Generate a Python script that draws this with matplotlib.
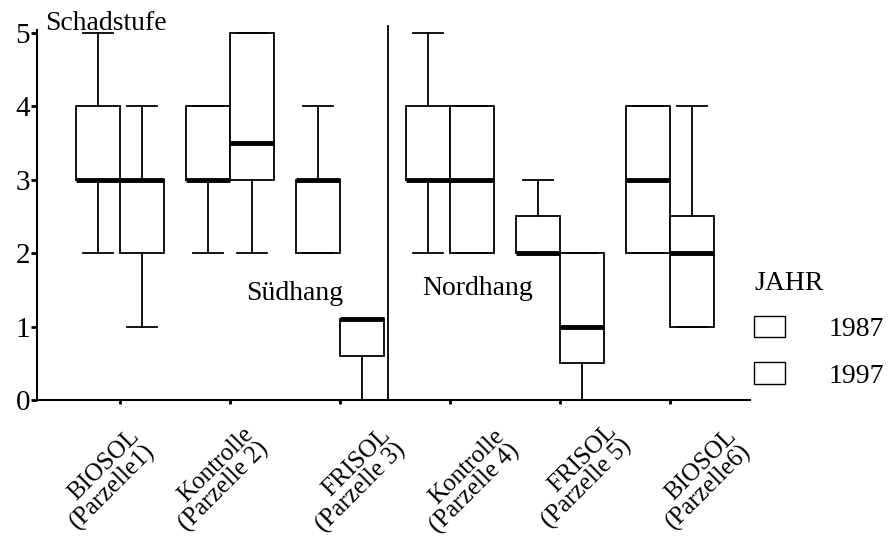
import numpy as np
import matplotlib
matplotlib.use("Agg")
import matplotlib.pyplot as plt
from matplotlib.patches import Patch
from matplotlib.transforms import ScaledTranslation

# ---- data ----
categories = ["BIOSOL\n(Parzelle1)", "Kontrolle\n(Parzelle 2)", "FRISOL\n(Parzelle 3)",
              "Kontrolle\n(Parzelle 4)", "FRISOL\n(Parzelle 5)", "BIOSOL\n(Parzelle6)"]
years = ["1987", "1997"]

lo_1987 = [2, 2, 2, 2, 2, 2]
q1_1987 = [3, 3, 2, 3, 2, 2]
med_1987 = [3, 3, 3, 3, 2, 3]
q3_1987 = [4, 4, 3, 4, 2.5, 4]
hi_1987 = [5, 4, 4, 5, 3, 4]

lo_1997 = [1, 2, 0, 2, 0, 1]
q1_1997 = [2, 3, 0.6, 2, 0.5, 1]
med_1997 = [3, 3.5, 1.1, 3, 1, 2]
q3_1997 = [3, 5, 1.1, 4, 2, 2.5]
hi_1997 = [4, 5, 1.1, 4, 2, 4]

yticks = [0, 1, 2, 3, 4, 5]
ylabel = "Schadstufe"
region_labels = ["Südhang", "Nordhang"]
legend_title = "JAHR"

# ---- layout (label nudges in pixels, as in the scanned original) ----
label_dx_px = [-50, -46, -19, -15, -13, -3]
label_dy_px = [4, 6, 5, 4, 9, 4]

plt.rcParams["font.family"] = ["Liberation Serif", "DejaVu Serif"]

fig = plt.figure(figsize=(8.95, 5.42), dpi=100)
ax = fig.add_axes([37 / 895, 1 - 400 / 542, (750 - 37) / 895, (400 - 30) / 542])

positions = np.arange(1, len(categories) + 1)
off = 0.2
bw = 0.4


def make_stats(lo, q1, med, q3, hi):
    return [dict(whislo=a, q1=b, med=c, q3=d, whishi=e, fliers=[])
            for a, b, c, d, e in zip(lo, q1, med, q3, hi)]


series = [
    (make_stats(lo_1987, q1_1987, med_1987, q3_1987, hi_1987), -off),
    (make_stats(lo_1997, q1_1997, med_1997, q3_1997, hi_1997), off),
]
lw = 1.3
for stats, o in series:
    ax.bxp(stats, positions=positions + o, widths=bw, showfliers=False,
           patch_artist=True, manage_ticks=False, capwidths=0.27,
           boxprops=dict(facecolor="white", edgecolor="black", linewidth=lw),
           medianprops=dict(color="black", linewidth=3.5, solid_capstyle="butt"),
           whiskerprops=dict(color="black", linewidth=lw),
           capprops=dict(color="black", linewidth=lw))

ax.set_xlim(0.245, 6.73)
ax.set_ylim(0, 5.04)

# divider between slopes
divider_x = 3.44
ax.plot([divider_x, divider_x], [0, 5.1], color="black", lw=1.3, clip_on=False)

for s in ["top", "right"]:
    ax.spines[s].set_visible(False)
for s in ["left", "bottom"]:
    ax.spines[s].set_linewidth(1.5)

ax.set_yticks(yticks)
ax.set_yticklabels([str(v) for v in yticks], fontsize=21)
ax.tick_params(axis="y", direction="out", length=4, width=2, pad=1)
ax.tick_params(axis="x", direction="out", length=3, width=2, pad=2)

ax.set_xticks(positions)
ax.set_xticklabels(categories, rotation=45, ha="right", va="top",
                   rotation_mode="anchor", fontsize=18, linespacing=0.95)
for lab, dx, dy in zip(ax.get_xticklabels(), label_dx_px, label_dy_px):
    shift = ScaledTranslation((58 + dx) / 100, (-22 + dy) / 100, fig.dpi_scale_trans)
    lab.set_transform(lab.get_transform() + shift)

ax.text(0.011, 1.0, ylabel, transform=ax.transAxes, fontsize=20, va="baseline", ha="left")
ax.text(2.15, 1.36, region_labels[0], fontsize=20, va="baseline", ha="left")
ax.text(3.745, 1.43, region_labels[1], fontsize=20, va="baseline", ha="left")

handles = [Patch(facecolor="white", edgecolor="black", linewidth=1.0) for _ in years]
leg = ax.legend(handles, years, title=legend_title, frameon=False, fontsize=20,
                title_fontsize=20, loc="upper left",
                bbox_to_anchor=(754 / 895, 1 - 271 / 542), bbox_transform=fig.transFigure,
                borderaxespad=0, borderpad=0, handlelength=1.1, handleheight=0.8,
                handletextpad=1.57, labelspacing=0.72, alignment="left")
leg.set_clip_on(False)

fig.savefig("out.png", dpi=100)
